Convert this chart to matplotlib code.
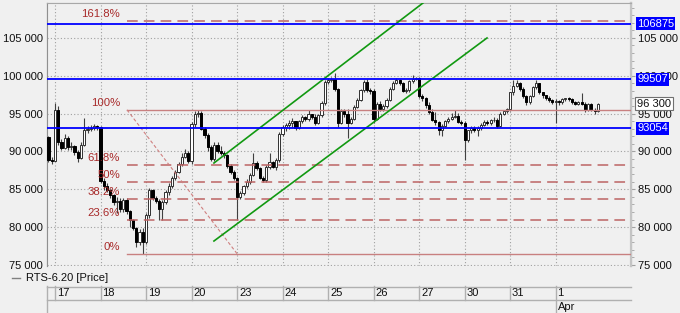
import matplotlib
matplotlib.use("Agg")
import matplotlib.pyplot as plt
import numpy as np
from matplotlib.lines import Line2D
from matplotlib.ticker import FuncFormatter, MultipleLocator

plt.rcParams['font.family'] = ['Liberation Sans', 'DejaVu Sans']

# RTS-6.20 hourly candles, values in thousands of points
first_open = 91.9
close = [88.9, 88.8,
         95.5, 91.3, 90.5, 91.8, 90.6, 90.7, 89.9, 89.1, 90.9, 92.8, 93.0, 93.1, 93.3, 93.2,
         86.1, 85.4, 84.9, 84.2, 83.3, 83.5, 82.4, 83.6, 82.1, 80.9, 79.9, 78.1, 79.4, 78.0,
         81.6, 84.9, 83.9, 83.5, 82.4, 83.3, 84.6, 85.4, 86.5, 87.3, 88.3, 89.3, 89.8, 88.7,
         93.6, 95.0, 95.1, 93.0, 92.2, 90.6, 89.0, 90.8, 90.1, 89.8, 89.5, 88.1, 87.3, 86.5,
         84.0, 84.5, 85.4, 86.0, 86.9, 88.5, 87.8, 86.5, 86.2, 88.0, 88.6, 88.0, 88.9, 92.3,
         93.2, 93.5, 93.8, 94.0, 93.1, 94.0, 94.5, 94.3, 94.9, 94.6, 93.8, 94.8, 96.4, 99.2,
         99.5, 99.6, 98.2, 93.8, 95.3, 94.9, 93.8, 94.3, 95.9, 96.8, 98.1, 99.2, 98.1, 98.0,
         94.3, 96.3, 95.6, 96.0, 96.8, 98.3, 99.0, 99.4, 99.0, 98.0, 98.1, 99.3, 99.6, 99.7,
         97.3, 97.0, 96.1, 95.2, 94.2, 93.9, 92.8, 93.4, 94.0, 94.3, 94.6, 94.7, 93.9, 93.8,
         91.5, 92.8, 93.1, 92.8, 93.1, 93.5, 93.9, 93.7, 94.1, 94.2, 93.3, 95.0, 95.3, 95.6,
         97.8, 98.7, 99.0, 98.2, 97.3, 96.5, 97.3, 98.5, 99.0, 97.8, 97.4, 97.0, 96.8, 96.5,
         96.6, 96.5, 96.9, 97.0, 96.9, 96.5, 96.3, 96.5, 96.3, 95.5, 96.3, 95.5, 95.3, 96.3]
high = [92.0, 89.3,
        96.4, 96.0, 91.6, 92.3, 92.0, 91.2, 90.9, 90.2, 91.2, 94.4, 93.4, 93.5, 93.6, 93.5,
        93.3, 86.5, 85.8, 85.1, 84.4, 84.0, 83.8, 83.9, 83.8, 82.3, 81.1, 80.0, 79.8, 79.9,
        81.9, 85.2, 85.1, 84.1, 83.7, 83.6, 84.9, 85.8, 86.8, 87.6, 88.6, 89.8, 90.3, 90.0,
        93.9, 95.3, 95.5, 95.4, 93.2, 92.4, 90.8, 91.3, 91.3, 90.7, 90.1, 89.7, 88.3, 87.5,
        86.6, 84.8, 85.6, 86.3, 87.1, 89.8, 88.8, 87.9, 86.7, 88.2, 89.8, 88.8, 89.2, 92.6,
        93.5, 93.8, 94.1, 94.4, 93.8, 94.2, 94.8, 94.7, 95.5, 95.0, 94.9, 95.0, 96.6, 99.5,
        99.7, 99.8, 100.4, 98.4, 95.6, 95.6, 95.6, 94.6, 96.1, 97.0, 98.3, 99.5, 99.6, 98.4,
        98.2, 96.5, 96.6, 96.3, 97.0, 98.5, 99.3, 99.7, 99.6, 99.2, 98.4, 99.5, 100.1, 99.9,
        99.9, 97.6, 97.2, 96.5, 95.6, 95.2, 94.0, 93.6, 94.2, 94.5, 95.1, 95.5, 95.1, 94.1,
        94.0, 92.9, 93.4, 93.3, 93.3, 93.7, 94.1, 94.1, 94.3, 94.5, 94.4, 95.2, 95.5, 95.8,
        97.9, 99.4, 99.4, 99.2, 98.5, 97.5, 97.5, 98.6, 99.4, 99.0, 97.9, 97.5, 97.3, 96.9,
        96.9, 96.8, 97.1, 97.1, 97.2, 97.0, 96.6, 96.7, 97.7, 96.5, 96.4, 96.4, 95.7, 96.4]
low = [88.6, 88.3,
       88.7, 90.9, 90.2, 90.3, 90.2, 90.2, 89.5, 88.6, 89.0, 90.7, 92.5, 92.7, 92.8, 92.9,
       85.8, 84.9, 84.6, 83.9, 82.9, 81.9, 82.0, 82.0, 81.8, 80.0, 79.6, 77.4, 77.6, 76.5,
       77.8, 81.2, 83.6, 83.2, 80.9, 81.0, 83.0, 84.3, 85.2, 86.2, 87.1, 88.1, 89.2, 88.5,
       88.4, 93.2, 94.6, 92.8, 91.8, 90.1, 88.7, 88.8, 89.8, 89.5, 89.2, 87.8, 87.0, 86.2,
       80.9, 83.7, 84.2, 85.2, 85.7, 86.7, 87.5, 86.3, 85.9, 86.0, 87.7, 87.8, 87.6, 88.6,
       92.0, 92.7, 93.0, 93.2, 92.9, 93.0, 93.8, 94.0, 94.0, 94.3, 93.5, 93.6, 94.6, 96.2,
       98.9, 99.2, 98.0, 93.2, 93.6, 94.6, 91.8, 93.6, 94.1, 95.7, 96.6, 97.9, 97.9, 97.6,
       93.7, 94.1, 95.3, 95.4, 95.8, 96.6, 98.1, 98.9, 98.8, 97.8, 97.7, 97.9, 99.1, 99.4,
       97.1, 96.7, 95.8, 94.9, 94.0, 93.5, 92.2, 92.1, 93.2, 93.7, 94.1, 94.4, 93.7, 93.5,
       88.9, 91.3, 92.5, 92.6, 92.0, 92.9, 93.3, 93.5, 93.5, 93.9, 93.1, 93.2, 94.8, 95.1,
       95.4, 97.5, 98.5, 98.0, 97.1, 96.2, 96.3, 97.2, 98.3, 97.6, 97.1, 96.8, 96.5, 96.3,
       93.8, 96.2, 96.3, 96.6, 96.7, 96.3, 96.1, 96.1, 96.1, 95.2, 95.4, 95.3, 95.0, 95.2]

day_labels = ['17', '18', '19', '20', '23', '24', '25', '26', '27', '30', '31', '1']
month_label = 'Apr'
first_day_start = 2
candles_per_day = 14

blue_levels = [106875, 99507, 93054]
last_price = 96300

# fibonacci tool anchors (candle index, price)
fib_hi = (24.15, 95500)
fib_lo = (58.0, 76500)
fib_ratios = [0, 23.6, 38.2, 50, 61.8, 100, 161.8]
fib_names = ['0%', '23.6%', '38.2%', '50%', '61.8%', '100%', '161.8%']

# green channel
chan_low = ([50.9, 134.9], [78170, 104990])
chan_up = ([50.9, 115.2], [88474, 109610])

xlim = (-0.46, 179.2)
ylim = (74870, 109610)

fs = 8
bg = '#f0f0f0'
fig = plt.figure(figsize=(6.8, 3.13), dpi=100, facecolor=bg)
ax = fig.add_axes([47/680, 47/313, 584/680, 263/313], facecolor=bg)

o = np.array([first_open] + close[:-1]) * 1000
c = np.array(close) * 1000
h = np.maximum(np.array(high) * 1000, np.maximum(o, c))
l = np.minimum(np.array(low) * 1000, np.minimum(o, c))
x = np.arange(len(c))
up = c >= o

ax.vlines(x, l, h, color='#404040', lw=0.8, zorder=3)
ax.bar(x[up], (c - o)[up], bottom=o[up], width=0.65, color='white',
       edgecolor='#303030', lw=0.7, zorder=4)
ax.bar(x[~up], (c - o)[~up], bottom=o[~up], width=0.65, color='black',
       edgecolor='black', lw=0.7, zorder=4)

day_starts = [first_day_start + k * candles_per_day for k in range(len(day_labels))]

ax.set_xlim(*xlim)
ax.set_ylim(*ylim)
ax.set_xticks(day_starts)
ax.yaxis.set_major_locator(MultipleLocator(5000))
ax.grid(True, color='#a0a0a0', lw=0.8, linestyle=(0, (1, 2)))
ax.tick_params(axis='x', length=0, labelbottom=False)
fmt = FuncFormatter(lambda v, p: f"{int(v):,}".replace(',', ' '))
ax.yaxis.set_major_formatter(fmt)
ax.tick_params(axis='y', length=0, labelsize=fs, pad=3, labelcolor='#101010')

axr = ax.twinx()
axr.set_ylim(*ylim)
axr.yaxis.set_major_locator(MultipleLocator(5000))
axr.yaxis.set_minor_locator(MultipleLocator(1000))
axr.yaxis.set_major_formatter(fmt)
axr.tick_params(axis='y', which='major', length=3, color='#a0a0a0', labelsize=fs,
                pad=2, labelcolor='#101010')
axr.tick_params(axis='y', which='minor', length=2, color='#a0a0a0')

for a in (ax, axr):
    a.spines['bottom'].set_visible(False)
    a.spines['left'].set_color('#909090')
    a.spines['top'].set_color('#a8a8a8')
    a.spines['right'].set_color('#c4c4c4')
    a.spines['right'].set_linewidth(1.6)

# fibonacci levels
fib_col = '#bd6464'
span = fib_hi[1] - fib_lo[1]
for r, name in zip(fib_ratios, fib_names):
    v = fib_lo[1] + span * r / 100
    if r in (0, 100):
        ax.plot([fib_hi[0], xlim[1]], [v, v], color='#c88080', lw=1.0, zorder=5)
    else:
        ax.plot([fib_hi[0], xlim[1]], [v, v], color=fib_col, lw=1.1,
                linestyle=(0, (7, 4)), zorder=5)
    ax.annotate(name, (22.0, v), xytext=(0, 1.5), textcoords='offset pixels',
                ha='right', va='bottom', fontsize=8.2, color='#a82a2a', zorder=6)
ax.plot([fib_hi[0], fib_lo[0]], [fib_hi[1], fib_lo[1]], color='#d08080', lw=0.8,
        linestyle=(0, (3, 2)), zorder=5)

# channel
ax.plot(*chan_low, color='#119911', lw=1.2, zorder=6)
ax.plot(*chan_up, color='#119911', lw=1.2, zorder=6)

# horizontal levels
ytr = ax.get_yaxis_transform()
for lv in blue_levels:
    ax.axhline(lv, color='#0000ff', lw=1.3, zorder=7)
    ax.text(1.0103, lv, str(lv), transform=ytr, color='white', fontsize=fs,
            va='center', ha='left', clip_on=False, zorder=20,
            bbox=dict(boxstyle='square,pad=0.12', fc='#0000ff', ec='none'))
ax.text(1.0103, last_price, f"{last_price:,}".replace(',', ' '), transform=ytr,
        color='#101010', fontsize=fs, va='center', ha='left', clip_on=False, zorder=20,
        bbox=dict(boxstyle='square,pad=0.15', fc='white', ec='#707070', lw=0.8))
axr.set_zorder(ax.get_zorder() - 1)
ax.patch.set_visible(True)

# legend
fig.add_artist(Line2D([12/680, 20/680], [1 - 278/313] * 2, color='#808080', lw=1))
fig.text(26/680, 1 - 278/313, 'RTS-6.20 [Price]', fontsize=fs, va='center',
         ha='left', color='#101010')

# date strip
ax2 = fig.add_axes([47/680, 0, 584/680, 27/313])
ax2.set_xlim(*xlim)
ax2.set_ylim(0, 27)
ax2.axis('off')
sc = '#b0b0b0'
ax2.plot(xlim, [26.5, 26.5], color=sc, lw=1, clip_on=False)
ax2.plot(xlim, [13, 13], color=sc, lw=1, clip_on=False)
ax2.plot([xlim[0]] * 2, [0, 27], color=sc, lw=1, clip_on=False)
for ds, lab in zip(day_starts, day_labels):
    bottom = 0 if lab == '1' else 13
    ax2.plot([ds, ds], [bottom, 27], color=sc, lw=1, clip_on=False)
    ax2.text(ds + 0.6, 20, lab, fontsize=fs, va='center', ha='left', color='#101010')
ax2.text(day_starts[-1] + 0.6, 6.5, month_label, fontsize=fs, va='center',
         ha='left', color='#101010')

fig.savefig('out.png', dpi=100, facecolor=bg)
